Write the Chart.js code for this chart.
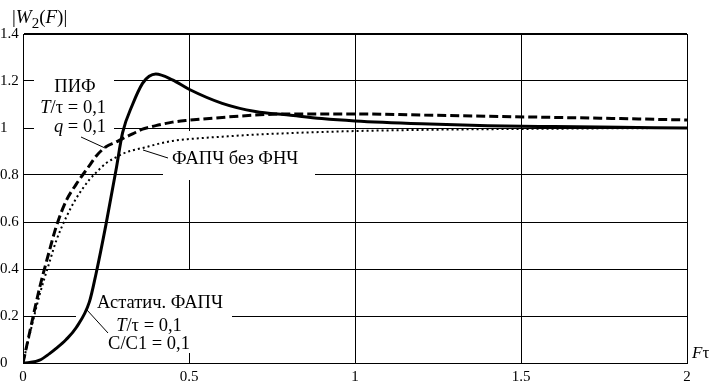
<!DOCTYPE html>
<html>
<head>
<meta charset="utf-8">
<script src="https://cdn.jsdelivr.net/npm/chart.js@4"></script>
<style>
  html, body { margin: 0; padding: 0; background: #fff; }
  #wrap { width: 717px; height: 386px; }
</style>
</head>
<body>
<div id="wrap"><canvas id="chart" width="717" height="386"></canvas></div>
<script>
const xValues = [0, 0.02, 0.05, 0.08, 0.1, 0.13, 0.16, 0.2, 0.22, 0.25, 0.28, 0.3, 0.33, 0.36,
                 0.38, 0.4, 0.45, 0.5, 0.6, 0.7, 0.8, 0.9, 1.0, 1.2, 1.4, 1.6, 1.8, 2.0];
// Астатич. ФАПЧ (solid)
const astaticValues = [0, 0.002, 0.012, 0.04, 0.062, 0.1, 0.15, 0.26, 0.38, 0.59, 0.82, 0.98, 1.1, 1.19,
                       1.22, 1.23, 1.205, 1.165, 1.105, 1.07, 1.055, 1.04, 1.03, 1.018, 1.01, 1.006, 1.003, 1.0];
// ПИФ (dashed)
const pifValues = [0, 0.13, 0.32, 0.48, 0.58, 0.69, 0.76, 0.84, 0.88, 0.92, 0.94, 0.955, 0.975, 0.995,
                   1.003, 1.01, 1.025, 1.033, 1.045, 1.055, 1.06, 1.06, 1.06, 1.055, 1.05, 1.045, 1.04, 1.034];
// ФАПЧ без ФНЧ (dotted)
const noFilterValues = [0, 0.12, 0.29, 0.43, 0.52, 0.62, 0.70, 0.78, 0.81, 0.85, 0.875, 0.89, 0.905, 0.915,
                        0.922, 0.93, 0.945, 0.953, 0.963, 0.972, 0.978, 0.983, 0.987, 0.992, 0.995, 0.997, 0.999, 1.0];

const xTicks = [0, 0.5, 1, 1.5, 2];
const yTicks = [0, 0.2, 0.4, 0.6, 0.8, 1, 1.2, 1.4];

const SERIF = '"Liberation Serif", "DejaVu Serif", serif';

function pts(ys) {
  return xValues.map((x, i) => ({ x: x, y: ys[i] }));
}

// draw a line of text made of [text, italic, dy, size] pieces
function richText(ctx, pieces, x, y, align, size) {
  let total = 0;
  pieces.forEach(p => {
    ctx.font = (p[1] ? 'italic ' : '') + (p[3] || size) + 'px ' + SERIF;
    total += ctx.measureText(p[0]).width;
  });
  let cx = x;
  if (align === 'center') cx = x - total / 2;
  if (align === 'right') cx = x - total;
  ctx.textAlign = 'left';
  ctx.textBaseline = 'alphabetic';
  pieces.forEach(p => {
    ctx.font = (p[1] ? 'italic ' : '') + (p[3] || size) + 'px ' + SERIF;
    ctx.fillText(p[0], cx, y + (p[2] || 0));
    cx += ctx.measureText(p[0]).width;
  });
}

const notes = {
  id: 'notes',
  beforeDatasetsDraw(chart) {
    const ctx = chart.ctx;
    ctx.save();
    // white boxes behind the labels that cut the grid
    ctx.fillStyle = '#fff';
    ctx.fillRect(34, 68, 80, 66);
    ctx.fillRect(163, 131, 152, 49);
    ctx.fillRect(76, 270, 156, 83);

    // leader lines
    ctx.strokeStyle = '#000';
    ctx.lineWidth = 1;
    ctx.beginPath();
    ctx.moveTo(81, 137); ctx.lineTo(105, 148);
    ctx.moveTo(143, 150); ctx.lineTo(168, 158);
    ctx.moveTo(87, 310); ctx.lineTo(108, 333);
    ctx.stroke();

    ctx.fillStyle = '#000';
    const fs = 18.5;
    richText(ctx, [['ПИФ', false]], 75, 92, 'center', fs);
    richText(ctx, [['T', true], ['/τ = 0,1', false]], 106, 113, 'right', fs);
    richText(ctx, [['q', true], [' = 0,1', false]], 106, 132, 'right', fs);

    richText(ctx, [['ФАПЧ без ФНЧ', false]], 172, 164, 'left', fs);

    richText(ctx, [['Астатич. ФАПЧ', false]], 160, 308, 'center', fs);
    richText(ctx, [['T', true], ['/τ = 0,1', false]], 149, 331, 'center', fs);
    richText(ctx, [['C/C1 = 0,1', false]], 149, 349, 'center', fs);
    ctx.restore();
  },
  afterDraw(chart) {
    const ctx = chart.ctx;
    ctx.save();
    ctx.fillStyle = '#000';
    richText(ctx, [['|', false], ['W', true], ['2', false, 5, 15], ['(', false], ['F', true], [')|', false]], 12, 23, 'left', 19);
    richText(ctx, [['F', true], ['τ', false]], 692, 358, 'left', 17);
    ctx.restore();
  }
};

new Chart(document.getElementById('chart'), {
  type: 'line',
  data: {
    datasets: [
      { label: 'Астатич. ФАПЧ', data: pts(astaticValues), borderColor: '#000', borderWidth: 3 },
      { label: 'ПИФ', data: pts(pifValues), borderColor: '#000', borderWidth: 3, borderDash: [9, 4] },
      { label: 'ФАПЧ без ФНЧ', data: pts(noFilterValues), borderColor: '#000', borderWidth: 2, borderDash: [2, 3] }
    ]
  },
  options: {
    responsive: false,
    animation: false,
    events: [],
    layout: { padding: { top: 34, right: 30, left: 0, bottom: 0 } },
    elements: {
      point: { radius: 0 },
      line: { cubicInterpolationMode: 'monotone', fill: false }
    },
    plugins: { legend: { display: false }, tooltip: { enabled: false } },
    scales: {
      x: {
        type: 'linear',
        min: 0, max: 2,
        afterBuildTicks: s => { s.ticks = xTicks.map(v => ({ value: v })); },
        afterFit: s => { s.height = 23; },
        grid: { color: '#000', lineWidth: 1, drawTicks: false },
        border: { color: '#000', width: 1 },
        ticks: { color: '#000', padding: 5, maxRotation: 0, font: { family: SERIF, size: 15 }, callback: v => String(v) }
      },
      y: {
        min: 0, max: 1.4,
        afterBuildTicks: s => { s.ticks = yTicks.map(v => ({ value: v })); },
        afterFit: s => { s.width = 23; },
        grid: { color: '#000', lineWidth: c => (c.tick && c.tick.value === 1.4 ? 2 : 1), drawTicks: false },
        border: { color: '#000', width: 1 },
        ticks: { color: '#000', padding: 4, crossAlign: 'far', font: { family: SERIF, size: 15 }, callback: v => String(v) }
      }
    }
  },
  plugins: [notes]
});
</script>
</body>
</html>
